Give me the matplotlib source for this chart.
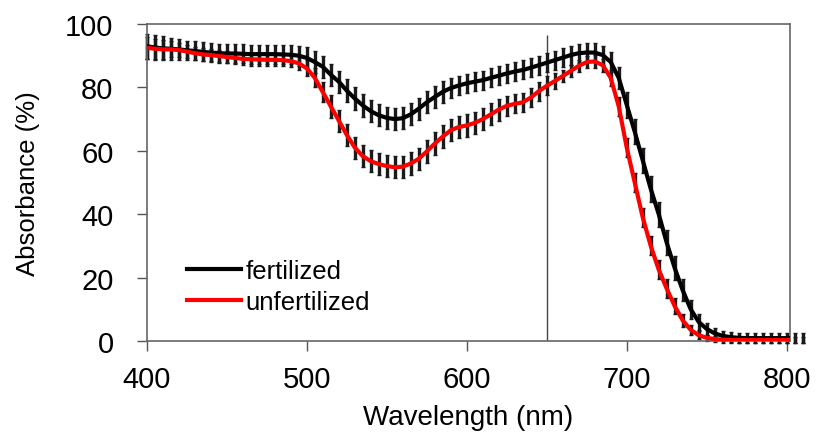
import numpy as np
import matplotlib.pyplot as plt

plt.rcParams['font.family'] = ['Liberation Sans', 'DejaVu Sans']

# wavelength grid (nm), 5 nm steps
wavelength = list(range(400, 815, 5))

fertilized = [
    93.0, 92.6, 92.3, 92.2, 92.0, 91.7, 91.5, 91.2, 91.0, 90.8,
    90.7, 90.7, 90.6, 90.5, 90.5, 90.5, 90.5, 90.4, 90.3, 90.0,
    89.3, 88.0, 86.5, 84.0, 81.8, 79.0, 76.5, 74.3, 72.5, 71.2,
    70.4, 70.0, 70.3, 71.5, 73.3, 75.3, 77.0, 78.6, 79.8, 80.6,
    81.3, 81.8, 82.3, 83.0, 83.7, 84.4, 85.0, 85.5, 86.2, 87.0,
    87.8, 88.6, 89.4, 90.2, 90.8, 91.0, 91.0, 90.2, 88.0, 83.0,
    74.5, 66.0, 57.0, 48.0, 40.0, 31.0, 23.0, 16.0, 10.0, 6.0,
    3.8, 2.4, 1.6, 1.2, 1.0, 0.9, 0.9, 0.9, 0.9, 0.9, 0.9, 0.9, 0.9,
]
fertilized_err = [
    4.0, 4.0, 3.8, 3.5, 3.2, 3.0, 3.0, 3.0, 3.0, 3.0,
    3.0, 3.0, 3.0, 3.0, 3.0, 3.0, 3.0, 3.0, 3.0, 3.2,
    3.3, 3.5, 3.5, 3.5, 3.5, 3.5, 3.5, 3.5, 3.5, 3.5,
    3.5, 3.5, 3.5, 3.5, 3.5, 3.5, 3.5, 3.5, 3.2, 3.0,
    3.0, 3.0, 3.0, 3.0, 3.0, 3.0, 3.0, 3.0, 3.0, 3.0,
    3.0, 3.0, 3.0, 3.0, 3.0, 3.0, 3.0, 3.0, 3.2, 3.5,
    4.0, 4.0, 4.0, 4.0, 4.0, 4.0, 3.8, 3.5, 3.0, 2.5,
    2.0, 1.8, 1.5, 1.5, 1.5, 1.5, 1.5, 1.5, 1.5, 1.5, 1.5, 1.5, 1.5,
]

unfertilized = [
    92.5, 92.2, 92.0, 92.0, 91.8, 91.3, 90.8, 90.4, 90.2, 89.9,
    89.6, 89.3, 89.0, 88.9, 88.8, 88.7, 88.7, 88.6, 88.3, 87.6,
    86.0, 83.0, 78.5, 74.0, 69.5, 65.0, 61.0, 58.3, 56.7, 55.8,
    55.2, 54.8, 55.0, 56.0, 57.5, 59.8, 62.3, 64.5, 66.5, 67.5,
    68.0, 68.8, 70.0, 71.5, 73.0, 74.2, 74.8, 75.3, 76.8, 78.8,
    80.5, 82.0, 83.6, 85.2, 86.8, 88.0, 88.2, 87.0, 83.0, 74.0,
    61.0, 50.0, 39.0, 30.0, 22.5, 16.5, 11.0, 6.5, 3.5, 1.8,
    1.0, 0.6, 0.4, 0.3, 0.3, 0.3, 0.3, 0.3, 0.3, 0.3, 0.3, 0.3, 0.3,
]
unfertilized_err = [
    3.5, 3.2, 3.0, 2.5, 2.2, 2.0, 2.0, 2.0, 2.0, 2.0,
    2.0, 2.0, 2.0, 2.0, 2.0, 2.0, 2.0, 2.0, 2.0, 2.2,
    2.5, 3.0, 3.2, 3.5, 3.5, 3.5, 3.5, 3.5, 3.5, 3.5,
    3.5, 3.5, 3.5, 3.5, 3.5, 3.5, 3.5, 3.5, 3.5, 3.5,
    3.5, 3.5, 3.5, 3.5, 3.5, 3.2, 3.0, 3.0, 3.0, 3.0,
    3.0, 2.5, 2.0, 2.0, 2.0, 2.0, 2.0, 2.0, 2.5, 3.0,
    3.0, 3.0, 3.0, 3.0, 3.0, 3.0, 2.5, 2.0, 1.5, 1.2,
    1.0, 1.0, 1.0, 1.0, 1.0, 1.0, 1.0, 1.0, 1.0, 1.0, 1.0, 1.0, 1.0,
]

fig = plt.figure(figsize=(8.16, 4.39), dpi=100)
ax = fig.add_axes([0.180, 0.221, 0.788, 0.722])

for vals, errs in [(fertilized, fertilized_err), (unfertilized, unfertilized_err)]:
    eb = ax.errorbar(wavelength, vals, yerr=errs, fmt='none', ecolor='#1a1a1a',
                     elinewidth=2.4, capsize=1.5, capthick=1, zorder=2)
    for part in eb.get_children():
        part.set_clip_on(False)

ax.plot(wavelength, fertilized, color='black', lw=3, label='fertilized', zorder=3)
ax.plot(wavelength, unfertilized, color='#ff0000', lw=3, label='unfertilized', zorder=4)

ax.vlines(650, 0, 96.5, color='#444444', lw=1, zorder=1)

ax.set_xlim(400, 802)
ax.set_ylim(0, 100)
ax.set_xticks([400, 500, 600, 700, 800])
ax.set_yticks([0, 20, 40, 60, 80, 100])
ax.tick_params(direction='out', length=7, width=1, colors='#555555',
               labelcolor='black', labelsize=21)
ax.tick_params(axis='x', pad=10)
ax.tick_params(axis='y', pad=17)
for s in ax.spines.values():
    s.set_color('#666666')
    s.set_linewidth(1.2)

ax.set_xlabel('Wavelength (nm)', fontsize=20, labelpad=8)
ax.set_ylabel('Absorbance (%)', fontsize=18.5, labelpad=18)

ax.legend(loc='center left', bbox_to_anchor=(0.062, 0.172), frameon=False,
          fontsize=18.5, handlelength=2.1, handletextpad=0.2, labelspacing=0.25,
          borderpad=0, borderaxespad=0)

fig.savefig('out.png', dpi=100)
